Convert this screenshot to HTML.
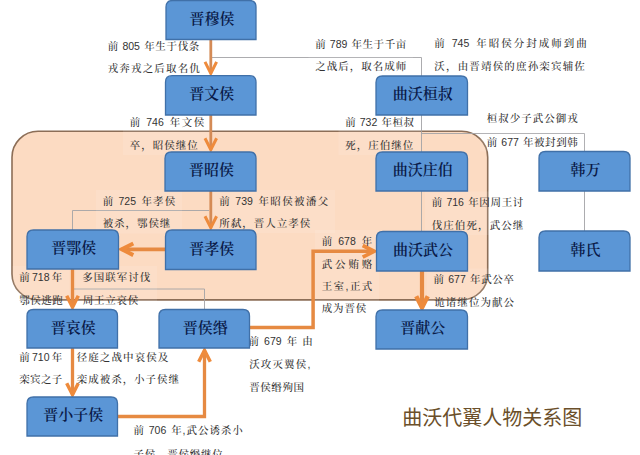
<!DOCTYPE html>
<html lang="zh-CN"><head><meta charset="utf-8"><title>曲沃代翼人物关系图</title>
<style>
html,body{margin:0;padding:0;background:#fff;}
body{width:640px;height:455px;overflow:hidden;}
svg{display:block;}
.peach{fill:#fcdbc2;stroke:#8c6e57;stroke-width:1.6;}
.g{fill:none;stroke:#a3a3a6;stroke-width:0.9;}
.a{fill:none;stroke-linejoin:miter;}
.o{fill:#fff;fill-opacity:0.1;}
.b{fill:#5b96d6;stroke:#4070a8;stroke-width:1.3;}
.bl{font-family:"Liberation Serif","Noto Serif CJK SC",serif;font-weight:600;font-size:15px;fill:#0a1a48;text-anchor:middle;}
.n{font-family:"Liberation Sans","Noto Serif CJK SC",serif;font-weight:500;font-size:10.5px;fill:#333;}
.t{font-family:"Liberation Sans","Noto Sans CJK SC",sans-serif;font-size:20px;fill:#6b4f2a;}
</style></head><body>
<svg width="640" height="455" viewBox="0 0 640 455">
<rect class="peach" x="12" y="131.3" width="475.7" height="168.6" rx="26" ry="26"/>
<polyline class="g" points="211,57.5 421.5,57.5 421.5,76"/>
<polyline class="g" points="421.5,114 421.5,152"/>
<polyline class="g" points="421.5,191 421.5,231"/>
<polyline class="g" points="421.5,133.5 584.5,133.5 584.5,152"/>
<polyline class="g" points="584.5,191 584.5,231"/>
<polyline class="g" points="209,210.5 72.5,210.5 72.5,230"/>
<polyline class="g" points="74,289 204.5,289 204.5,310"/>
<rect class="o" x="101" y="35" width="105.5" height="43.5"/>
<rect class="o" x="308.5" y="33" width="104.5" height="43.0"/>
<rect class="o" x="427.6" y="32" width="165.9" height="44.4"/>
<rect class="o" x="123" y="111" width="88.0" height="44.0"/>
<rect class="o" x="338.5" y="111" width="82.2" height="44.0"/>
<rect class="o" x="480" y="107.4" width="104.5" height="44.1"/>
<rect class="o" x="96" y="190" width="86.0" height="43.5"/>
<rect class="o" x="212.5" y="190" width="122.5" height="43.0"/>
<rect class="o" x="425" y="191.5" width="105.0" height="43.5"/>
<rect class="o" x="12.5" y="266" width="57.0" height="44.0"/>
<rect class="o" x="75.5" y="266" width="81.5" height="44.0"/>
<rect class="o" x="315" y="230" width="64.0" height="88.0"/>
<rect class="o" x="426.75" y="268.5" width="94.0" height="43.5"/>
<rect class="o" x="12.5" y="346" width="56.5" height="43.5"/>
<rect class="o" x="70" y="346" width="115.8" height="43.5"/>
<rect class="o" x="241.75" y="330" width="77.8" height="67.0"/>
<rect class="o" x="126.75" y="419" width="122.8" height="43.5"/>
<polyline class="a" stroke="#d48b56" stroke-width="2.8" points="210.8,39 210.8,73.4"/><polyline class="a" stroke="#ee8b3c" stroke-width="3.0" points="205.0,61.9 210.8,73.4 216.6,61.9"/>
<polyline class="a" stroke="#d48b56" stroke-width="2.8" points="210.8,114 210.8,149.7"/><polyline class="a" stroke="#ee8b3c" stroke-width="3.0" points="205.0,138.2 210.8,149.7 216.6,138.2"/>
<polyline class="a" stroke="#d48b56" stroke-width="2.8" points="210.8,191 210.8,227.7"/><polyline class="a" stroke="#ee8b3c" stroke-width="3.0" points="205.0,216.2 210.8,227.7 216.6,216.2"/>
<polyline class="a" stroke="#e68a42" stroke-width="3.8" points="165.5,249.3 121.8,249.3"/><polyline class="a" stroke="#ee8b3c" stroke-width="4.0" points="133.3,243.5 121.8,249.3 133.3,255.1"/>
<polyline class="a" stroke="#e68a42" stroke-width="3.3" points="72.5,269 72.5,307.2"/><polyline class="a" stroke="#ee8b3c" stroke-width="3.5" points="66.7,295.7 72.5,307.2 78.3,295.7"/>
<polyline class="a" stroke="#e68a42" stroke-width="3.3" points="72.5,348 72.5,394.7"/><polyline class="a" stroke="#ee8b3c" stroke-width="3.5" points="66.7,383.2 72.5,394.7 78.3,383.2"/>
<polyline class="a" stroke="#e68a42" stroke-width="3.3" points="117.5,416.5 204.5,416.5 204.5,350.3"/><polyline class="a" stroke="#ee8b3c" stroke-width="3.5" points="210.3,361.8 204.5,350.3 198.7,361.8"/>
<polyline class="a" stroke="#e68a42" stroke-width="3.5" points="249.5,327.6 313.1,327.6 313.1,251.3 374.2,251.3"/><polyline class="a" stroke="#ee8b3c" stroke-width="3.7" points="362.7,257.1 374.2,251.3 362.7,245.5"/>
<polyline class="a" stroke="#e68a42" stroke-width="4.2" points="422,271 422.0,307.7"/><polyline class="a" stroke="#ee8b3c" stroke-width="4.4" points="416.2,296.2 422.0,307.7 427.8,296.2"/>
<text class="n" x="107.70 118.86 122.43 128.27 134.11 140.60 144.18 155.33 166.49 177.64 188.80" y="49.8">前 805 年生于伐条</text>
<text class="n" x="107.70 119.36 131.01 142.67 154.33 165.99 177.64 189.30" y="72.3">戎奔戎之后取名仇</text>
<text class="n" x="315.20 326.29 329.81 335.64 341.48 347.91 351.43 362.52 373.61 384.71 395.80" y="47.8">前 789 年生于千亩</text>
<text class="n" x="315.20 326.71 338.23 349.74 361.26 372.77 384.29 395.80" y="69.8">之战后，取名成师</text>
<text class="n" x="434.30 446.81 451.74 457.58 463.42 471.27 476.20 488.71 501.23 513.74 526.25 538.76 551.28 563.79 576.30" y="46.8">前 745 年昭侯分封成师到曲</text>
<text class="n" x="434.30 445.97 457.63 469.30 480.97 492.63 504.30 515.97 527.63 539.30 550.97 562.63 574.30" y="70.2">沃，由晋靖侯的庶孙栾宾辅佐</text>
<text class="n" x="129.70 141.74 146.20 152.04 157.88 165.26 169.72 181.76 193.80" y="125.8">前 746 年文侯</text>
<text class="n" x="129.70 141.22 152.74 164.26 175.78 187.30" y="148.8">卒，昭侯继位</text>
<text class="n" x="345.20 356.28 359.78 365.62 371.46 377.88 381.38 392.47 403.55" y="125.8">前 732 年桓叔</text>
<text class="n" x="345.20 356.72 368.24 379.76 391.28 402.80" y="148.8">死，庄伯继位</text>
<text class="n" x="486.70 498.21 509.73 521.24 532.76 544.27 555.79 567.30" y="122.2">桓叔少子武公御戎</text>
<text class="n" x="486.70 497.79 501.31 507.14 512.98 519.41 522.93 534.02 545.11 556.21 567.30" y="145.8">前 677 年被封到韩</text>
<text class="n" x="102.70 114.41 118.53 124.37 130.21 137.26 141.38 153.09 164.80" y="204.8">前 725 年孝侯</text>
<text class="n" x="102.70 114.12 125.54 136.96 148.38 159.80" y="227.3">被杀，鄂侯继</text>
<text class="n" x="219.20 231.06 235.34 241.18 247.02 254.22 258.50 270.36 282.22 294.08 305.94 317.80" y="204.8">前 739 年昭侯被潘父</text>
<text class="n" x="219.20 230.71 242.23 253.74 265.26 276.77 288.29 299.80" y="226.8">所弑，晋人立孝侯</text>
<text class="n" x="431.70 442.86 446.43 452.27 458.11 464.60 468.18 479.33 490.49 501.64 512.80" y="206.3">前 716 年因周王讨</text>
<text class="n" x="431.70 443.29 454.87 466.46 478.04 489.63 501.21 512.80" y="228.8">伐庄伯死，武公继</text>
<text class="n" x="19.20 29.39 31.99 37.83 43.67 49.19 51.80" y="280.8">前 718 年</text>
<text class="n" x="19.20 30.23 41.27 52.30" y="303.8">鄂侯逃跑</text>
<text class="n" x="82.20 93.72 105.24 116.76 128.28 139.80" y="280.8">多国联军讨伐</text>
<text class="n" x="82.70 93.98 105.25 116.53 127.80" y="303.8">周王立哀侯</text>
<text class="n" x="321.70 333.76 338.24 344.08 349.92 357.32 361.80" y="244.8">前 678 年</text>
<text class="n" x="321.70 335.07 348.43 361.80" y="267.6">武公贿赂</text>
<text class="n" x="321.70 333.62 345.54 349.88 361.80" y="289.8">王室,正式</text>
<text class="n" x="321.70 333.07 344.43 355.80" y="311.8">成为晋侯</text>
<text class="n" x="433.45 444.63 448.23 454.06 459.90 466.42 470.02 481.19 492.37 503.55" y="283.3">前 677 年武公卒</text>
<text class="n" x="434.20 445.76 457.32 468.88 480.43 491.99 503.55" y="305.8">诡诸继位为献公</text>
<text class="n" x="19.20 29.39 31.99 37.83 43.67 49.19 51.80" y="360.8">前 710 年</text>
<text class="n" x="19.20 30.07 40.93 51.80" y="383.3">栾宾之子</text>
<text class="n" x="76.70 88.29 99.87 111.46 123.04 134.63 146.21 157.80" y="360.8">径庭之战中哀侯及</text>
<text class="n" x="76.70 88.18 99.66 111.14 122.63 134.11 145.59 157.07 168.55" y="383.3">栾成被杀，小子侯继</text>
<text class="n" x="248.45 260.05 264.06 269.90 275.74 282.67 286.69 298.28 302.30" y="344.8">前 679 年 由</text>
<text class="n" x="249.20 260.84 272.47 284.11 295.74 307.38" y="368.3">沃攻灭翼侯,</text>
<text class="n" x="249.20 260.29 271.37 282.46 293.55" y="390.8">晋侯缗殉国</text>
<text class="n" x="133.45 144.91 148.78 154.62 160.46 167.26 171.13 182.59 186.47 197.93 209.38 220.84 232.30" y="433.8">前 706 年,武公诱杀小</text>
<text class="n" x="133.45 144.71 155.98 167.24 178.51 189.77 201.04 212.30" y="457.5">子侯，晋侯缗继位</text>
<path class="b" d="M166,39.5 L166,7.0 Q166,0.5 172.5,0.5 L249.5,0.5 Q256,0.5 256,7.0 L256,39.5 Z"/><text class="bl" x="212.0" y="23.8">晋穆侯</text>
<path class="b" d="M165.5,115 L165.5,82.2 Q165.5,75.7 172.0,75.7 L249.5,75.7 Q256,75.7 256,82.2 L256,115 Z"/><text class="bl" x="211.75" y="99.1">晋文侯</text>
<path class="b" d="M165,191 L165,158.5 Q165,152 171.5,152 L249.5,152 Q256,152 256,158.5 L256,191 Z"/><text class="bl" x="211.5" y="175.3">晋昭侯</text>
<path class="b" d="M165.5,269.5 L165.5,236.5 Q165.5,230 172.0,230 L249.5,230 Q256,230 256,236.5 L256,269.5 Z"/><text class="bl" x="211.75" y="253.6">晋孝侯</text>
<path class="b" d="M27,269 L27,236.5 Q27,230 33.5,230 L112.0,230 Q118.5,230 118.5,236.5 L118.5,269 Z"/><text class="bl" x="73.75" y="253.3">晋鄂侯</text>
<path class="b" d="M27,348 L27,316.0 Q27,309.5 33.5,309.5 L111.0,309.5 Q117.5,309.5 117.5,316.0 L117.5,348 Z"/><text class="bl" x="73.25" y="332.6">晋哀侯</text>
<path class="b" d="M159,348 L159,316.0 Q159,309.5 165.5,309.5 L243.0,309.5 Q249.5,309.5 249.5,316.0 L249.5,348 Z"/><text class="bl" x="205.25" y="332.6">晋侯缗</text>
<path class="b" d="M27,436 L27,403.5 Q27,397 33.5,397 L111.0,397 Q117.5,397 117.5,403.5 L117.5,436 Z"/><text class="bl" x="73.25" y="420.3">晋小子侯</text>
<path class="b" d="M376,115 L376,82.5 Q376,76 382.5,76 L461.0,76 Q467.5,76 467.5,82.5 L467.5,115 Z"/><text class="bl" x="422.75" y="99.3">曲沃桓叔</text>
<path class="b" d="M376,191 L376,158.5 Q376,152 382.5,152 L461.0,152 Q467.5,152 467.5,158.5 L467.5,191 Z"/><text class="bl" x="422.75" y="175.3">曲沃庄伯</text>
<path class="b" d="M376.5,271 L376.5,238.0 Q376.5,231.5 383.0,231.5 L461.0,231.5 Q467.5,231.5 467.5,238.0 L467.5,271 Z"/><text class="bl" x="423.0" y="255.1">曲沃武公</text>
<path class="b" d="M376,349 L376,316.5 Q376,310 382.5,310 L461.0,310 Q467.5,310 467.5,316.5 L467.5,349 Z"/><text class="bl" x="422.75" y="333.3">晋献公</text>
<path class="b" d="M539,191 L539,158.0 Q539,151.5 545.5,151.5 L623.5,151.5 Q630,151.5 630,158.0 L630,191 Z"/><text class="bl" x="585.5" y="175.1">韩万</text>
<path class="b" d="M539,271 L539,237.5 Q539,231 545.5,231 L623.5,231 Q630,231 630,237.5 L630,271 Z"/><text class="bl" x="585.5" y="254.8">韩氏</text>
<text class="t" x="402.3" y="425">曲沃代翼人物关系图</text>
</svg>
</body></html>
